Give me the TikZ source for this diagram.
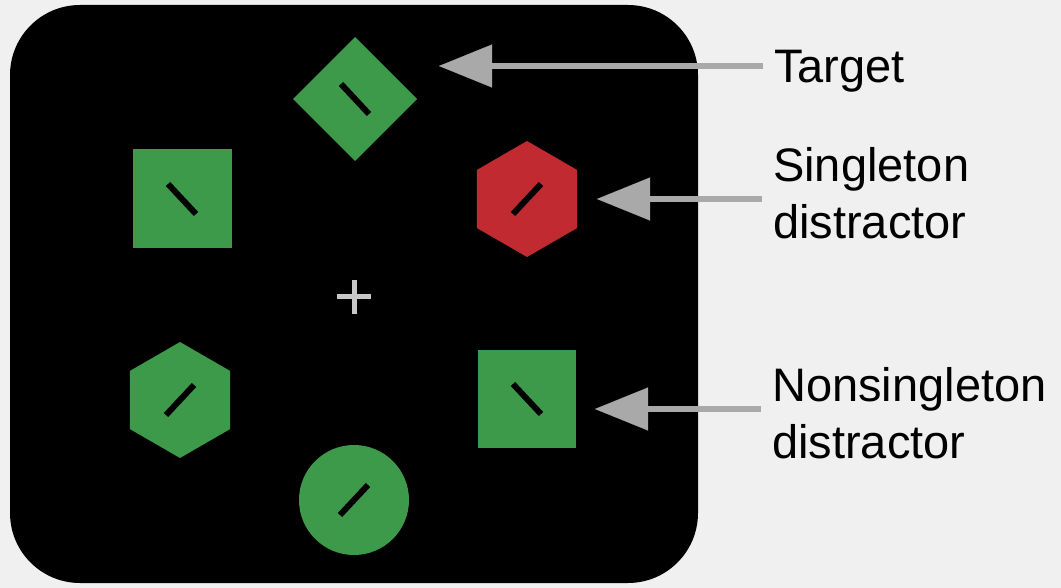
\documentclass[tikz,border=0pt]{standalone}
\usepackage{fontspec}
\setmainfont{Liberation Sans}
\usetikzlibrary{shapes.geometric,arrows.meta}
\definecolor{pagebg}{HTML}{F0F0F0}
\definecolor{stimgreen}{HTML}{3E9A4B}
\definecolor{stimred}{HTML}{C02A30}
\definecolor{pointergray}{HTML}{A9A9A9}
\definecolor{fixgray}{HTML}{C8C8C8}

\begin{document}
\begin{tikzpicture}[x=1pt,y=-1pt,
  item/.style={fill=#1, draw=none, inner sep=0pt, outer sep=0pt},
  bar/.style={draw=black, line width=6pt},
  pointer/.style={draw=pointergray, line width=6pt, shorten <=11pt,
    -{Triangle[length=53pt,width=43pt,line width=0.1pt]}},
  lbl/.style={font=\fontsize{47}{57}\selectfont, align=left,
    anchor=north west, inner sep=0pt, text=black},
  fixation/.style={draw=fixgray, line width=5pt}]

% page and display screen
\fill[pagebg] (0,0) rectangle (1061,588);
\useasboundingbox (0,0) rectangle (1061,588);
\fill[black, rounded corners=70pt] (10,5) rectangle (698,583);

% search items
\node[item=stimgreen, diamond, minimum width=124pt, minimum height=124pt] (target) at (355,99) {};
\node[item=stimgreen, rectangle, minimum size=99pt] (sqA) at (182,199) {};
\node[item=stimred, regular polygon, regular polygon sides=6, shape border rotate=30, minimum size=116pt] (single) at (527,199) {};
\node[item=stimgreen, regular polygon, regular polygon sides=6, shape border rotate=30, minimum size=116pt] (hexB) at (180,400) {};
\node[item=stimgreen, rectangle, minimum size=98pt] (nonsingle) at (527,399) {};
\node[item=stimgreen, circle, minimum size=110pt] (disc) at (354,500) {};

% line segments inside the items
\draw[bar] ([shift={(-14,-15)}]target.center) -- ([shift={(14,15)}]target.center);
\draw[bar] ([shift={(-14,-15)}]sqA.center) -- ([shift={(14,15)}]sqA.center);
\draw[bar] ([shift={(-14,15)}]single.center) -- ([shift={(14,-15)}]single.center);
\draw[bar] ([shift={(-14,15)}]hexB.center) -- ([shift={(14,-15)}]hexB.center);
\draw[bar] ([shift={(-14,-15)}]nonsingle.center) -- ([shift={(14,15)}]nonsingle.center);
\draw[bar] ([shift={(-14,15)}]disc.center) -- ([shift={(14,-15)}]disc.center);

% fixation cross
\coordinate (fix) at (354,297);
\draw[fixation] ([xshift=-17pt]fix) -- ([xshift=17pt]fix)
                ([yshift=-17pt]fix) -- ([yshift=17pt]fix);

% labels
\node[lbl] (tgt-lbl) at (774,50) {Target};
\node[lbl] (sgl-lbl) at (773,147) {Singleton\\distractor};
\node[lbl] (non-lbl) at (772,367) {Nonsingleton\\distractor};

% pointers
\coordinate (tgt-tip) at (439,66);
\coordinate (sgl-tip) at (597,199);
\coordinate (non-tip) at (595,409);
\draw[pointer] (tgt-lbl.west |- tgt-tip) -- (tgt-tip);
\draw[pointer] (sgl-lbl.west |- sgl-tip) -- (sgl-tip);
\draw[pointer] (non-lbl.west |- non-tip) -- (non-tip);
\end{tikzpicture}
\end{document}
